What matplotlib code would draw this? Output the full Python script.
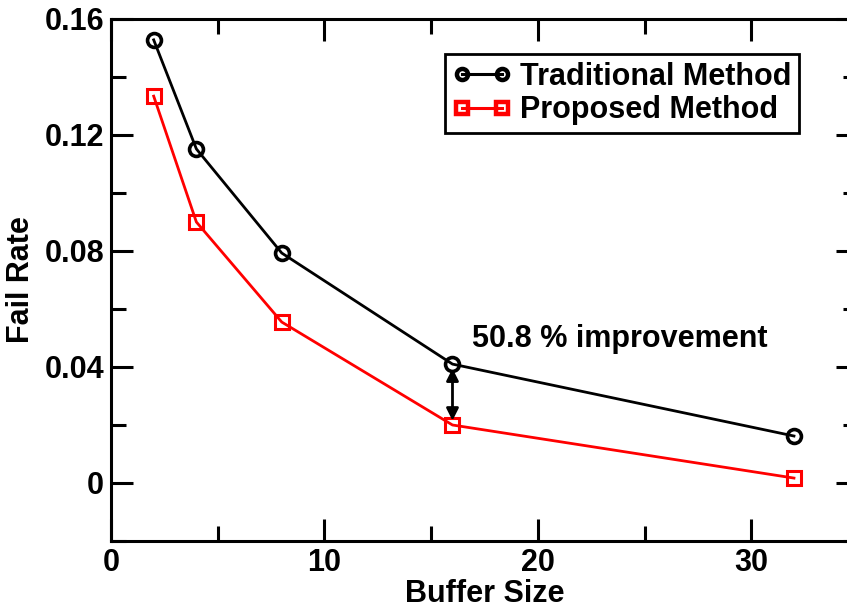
import matplotlib
matplotlib.use("Agg")
import matplotlib.pyplot as plt
from matplotlib.ticker import MultipleLocator, FixedFormatter, FixedLocator

plt.rcParams['font.family'] = ['Liberation Sans', 'DejaVu Sans']
plt.rcParams['font.weight'] = 'bold'

buffer_sizes = [2, 4, 8, 16, 32]
traditional = [0.1528, 0.1152, 0.0793, 0.0410, 0.0162]
proposed = [0.1334, 0.0900, 0.0555, 0.0200, 0.0017]
y_ticks = [0, 0.04, 0.08, 0.12, 0.16]
y_tick_labels = ["0", "0.04", "0.08", "0.12", "0.16"]
x_ticks = [0, 10, 20, 30]
x_tick_labels = ["0", "10", "20", "30"]

W, H = 847, 610
fig = plt.figure(figsize=(W / 100, H / 100), dpi=100)
left, right, top, bottom = 111, 858, 19, 541
ax = fig.add_axes([left / W, 1 - bottom / H, (right - left) / W, (bottom - top) / H])

ax.plot(buffer_sizes, traditional, color='black', lw=2.0, marker='o', ms=10,
        mfc='none', mec='black', mew=2.6, label='Traditional Method', clip_on=False)
ax.plot(buffer_sizes, proposed, color='red', lw=2.0, marker='s', ms=10,
        mfc='none', mec='red', mew=2.2, label='Proposed Method', clip_on=False)

ax.set_xlim(0, 35)
ax.set_ylim(-0.02, 0.16)

ax.xaxis.set_major_locator(FixedLocator(x_ticks))
ax.xaxis.set_major_formatter(FixedFormatter(x_tick_labels))
ax.xaxis.set_minor_locator(MultipleLocator(5))
ax.yaxis.set_major_locator(FixedLocator(y_ticks))
ax.yaxis.set_major_formatter(FixedFormatter(y_tick_labels))
ax.yaxis.set_minor_locator(MultipleLocator(0.02))

ax.tick_params(which='both', direction='in', top=True, right=True, width=2.2)
ax.tick_params(which='major', length=16, labelsize=22, pad=5)
ax.tick_params(which='minor', length=11)
for s in ax.spines.values():
    s.set_linewidth(2.2)

ax.set_xlabel('Buffer Size', fontsize=22, fontweight='bold', labelpad=1)
ax.set_ylabel('Fail Rate', fontsize=22, fontweight='bold', labelpad=6)

ax.annotate('', xy=(16, 0.0215), xytext=(16, 0.0395),
            arrowprops=dict(arrowstyle='<|-|>', color='black', lw=2,
                            mutation_scale=18, shrinkA=0, shrinkB=0))
ax.text(16.9, 0.0495, '50.8 % improvement', fontsize=22, fontweight='bold',
        ha='left', va='center')

leg = ax.legend(loc='upper left', bbox_to_anchor=((445 - left) / (right - left), 1 - (54 - top) / (bottom - top)),
                fontsize=22, frameon=True, fancybox=False, edgecolor='black',
                borderpad=0.25, handlelength=1.9, handletextpad=0.3, labelspacing=0.12,
                borderaxespad=0, numpoints=2, markerscale=0.8, framealpha=1)
leg.get_frame().set_linewidth(2)
for h in leg.legend_handles:
    h.set_markeredgewidth(3.2)
    h.set_linewidth(2.2)

fig.savefig('out.png', dpi=100)
